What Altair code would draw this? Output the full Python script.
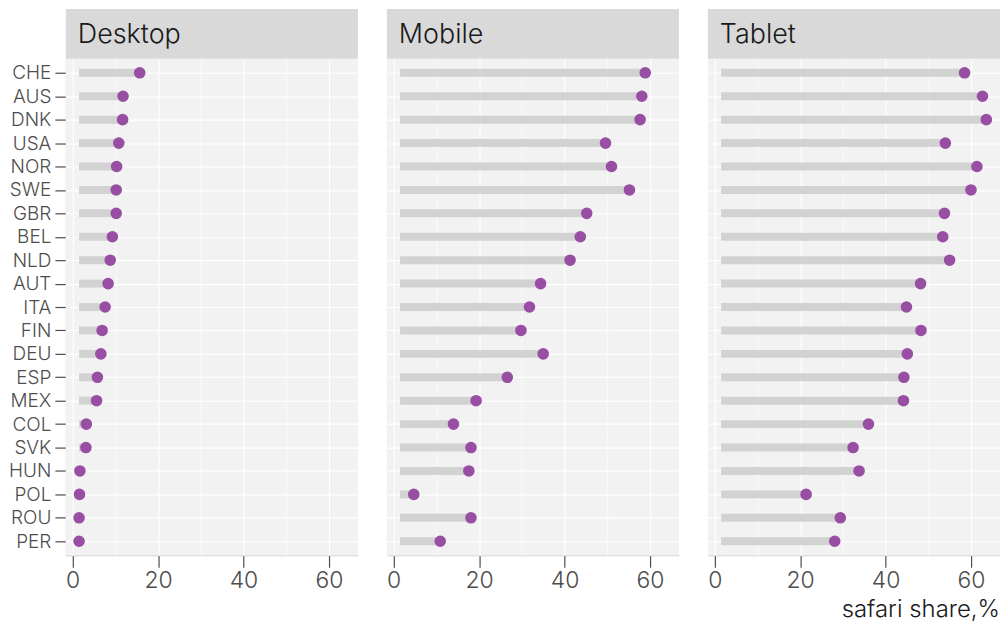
import altair as alt
import pandas as pd

countries = ["CHE", "AUS", "DNK", "USA", "NOR", "SWE", "GBR", "BEL", "NLD", "AUT", "ITA",
             "FIN", "DEU", "ESP", "MEX", "COL", "SVK", "HUN", "POL", "ROU", "PER"]
devices = ["Desktop", "Mobile", "Tablet"]

desktop = [15.7, 11.8, 11.7, 10.8, 10.3, 10.2, 10.2, 9.3, 8.8, 8.3, 7.6,
           6.9, 6.6, 5.8, 5.6, 3.2, 3.1, 1.7, 1.6, 1.5, 1.5]
mobile = [58.9, 58.1, 57.7, 49.6, 51.0, 55.2, 45.2, 43.7, 41.3, 34.4, 31.8,
          29.8, 35.0, 26.6, 19.3, 14.0, 18.1, 17.6, 4.7, 18.1, 10.9]
tablet = [58.5, 62.7, 63.6, 54.0, 61.4, 60.0, 53.8, 53.4, 55.0, 48.2, 44.9,
          48.3, 45.1, 44.3, 44.2, 36.0, 32.4, 33.8, 21.4, 29.4, 28.1]

rows = []
for dev, vals in zip(devices, [desktop, mobile, tablet]):
    for c, v in zip(countries, vals):
        rows.append({"device": dev, "country": c, "share": v})
df = pd.DataFrame(rows)
df["start"] = df["share"].min()

FONT = "Inter"
W, H = 293, 498

x_scale = alt.Scale(domain=[-1.6, 66.8], nice=False, zero=False)
y_enc = alt.Y("country:N", sort=countries, title=None,
              scale=alt.Scale(type="point", padding=0.6),
              axis=alt.Axis(labelFontSize=19, labelColor="#4d4d4d", labelFont=FONT,
                            labelFontWeight=300, tickSize=11, tickColor="#4d4d4d",
                            tickWidth=1.2, labelPadding=4, domain=True, domainColor="#cccccc",
                            grid=True, gridColor="white", gridWidth=1.1))
x_axis = alt.Axis(values=[0, 10, 20, 30, 40, 50, 60],
                  labelExpr="datum.value % 20 === 0 ? datum.label : ''",
                  tickOpacity={"condition": {"test": "datum.value % 20 === 0", "value": 1}, "value": 0},
                  gridWidth={"condition": {"test": "datum.value % 20 === 0", "value": 1.1}, "value": 0.6},
                  gridColor="white", labelFontSize=23, labelColor="#4d4d4d", labelFont=FONT,
                  labelFontWeight=300, tickSize=12, tickColor="#4d4d4d", tickWidth=1.2,
                  domainColor="#cccccc", labelPadding=2, title=None)

base = alt.Chart().encode(y=y_enc)

seg = base.mark_rule(color="#d2d2d2", strokeWidth=8, strokeCap="butt").encode(
    x=alt.X("start:Q", scale=x_scale, axis=x_axis),
    x2="share:Q",
)
pts = base.mark_circle(size=135, color="#984ea3", opacity=1).encode(
    x=alt.X("share:Q", scale=x_scale, axis=x_axis),
)
strip = alt.Chart().transform_filter(
    alt.datum.country == countries[0]
).mark_rect(color="#d9d9d9").encode(
    x=alt.value(0), x2=alt.value(W), y=alt.value(-50), y2=alt.value(0)
)
strip_text = alt.Chart().transform_filter(
    alt.datum.country == countries[0]
).mark_text(align="left", baseline="middle", fontSize=27, font=FONT, fontWeight=300,
            color="#1a1a1a").encode(
    x=alt.value(12), y=alt.value(-24), text="device:N"
)

layer = alt.layer(seg, pts, strip, strip_text).properties(width=W, height=H)

chart = layer.facet(
    data=df,
    column=alt.Column("device:N", sort=devices, header=alt.Header(title=None, labels=False)),
    spacing=29,
).properties(
    title=alt.TitleParams("safari share,%", orient="bottom", anchor="end", fontSize=24,
                          font=FONT, fontWeight=300, color="#1a1a1a", offset=6)
).configure(padding=0, background="white").configure_view(fill="#f2f2f2", stroke=None)

chart.save("out.html", embed_options={"renderer": "svg", "actions": False})
